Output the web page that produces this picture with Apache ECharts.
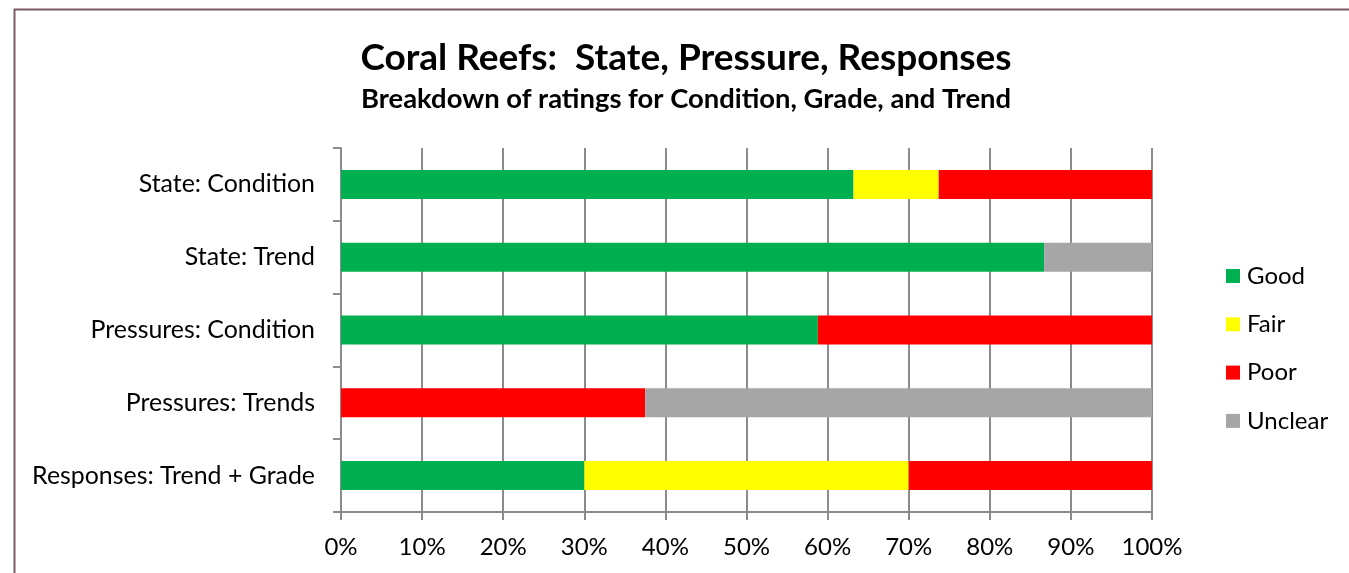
<!DOCTYPE html>
<html>
<head>
<meta charset="utf-8">
<script src="https://cdn.jsdelivr.net/npm/echarts@6/dist/echarts.min.js"></script>
<style>
html,body{margin:0;padding:0;background:#fff;}
#chart{width:1349px;height:573px;}
</style>
</head>
<body>
<div id="chart"></div>
<script>
const categories = ['State: Condition', 'State: Trend', 'Pressures: Condition', 'Pressures: Trends', 'Responses: Trend + Grade'];
const good    = [63.2, 86.7, 58.8, 0, 30];
const fair    = [10.5, 0, 0, 0, 40];
const poor    = [26.3, 0, 41.2, 37.5, 30];
const unclear = [0, 13.3, 0, 62.5, 0];
const titleText = 'Coral Reefs:  State, Pressure, Responses';
const subtitleText = 'Breakdown of ratings for Condition, Grade, and Trend';

const FONT = 'Lato, "Open Sans", sans-serif';
const gridColor = '#8c8c8c';

const chart = echarts.init(document.getElementById('chart'));
function mk(name, data, color) {
  return { name: name, type: 'bar', stack: 'total', data: data, barWidth: 29,
    itemStyle: { color: color }, emphasis: { disabled: true } };
}
chart.setOption({
  animation: false,
  backgroundColor: '#fff',
  graphic: [
    { type: 'rect', shape: { x: 14.5, y: 9.5, width: 1400, height: 600 }, style: { fill: 'none', stroke: '#7a5c68', lineWidth: 2 }, z: 0 },
    { type: 'text', x: 686, y: 58, style: { text: titleText, font: 'bold 37px ' + FONT, fill: '#000', align: 'center', verticalAlign: 'middle' } },
    { type: 'text', x: 686, y: 99, style: { text: subtitleText, font: 'bold 27.4px ' + FONT, fill: '#000', align: 'center', verticalAlign: 'middle' } }
  ],
  legend: {
    orient: 'vertical', left: 1226, top: 264, itemWidth: 14, itemHeight: 14, itemGap: 24.3,
    padding: 0, icon: 'rect',
    textStyle: { fontFamily: FONT, fontSize: 24, lineHeight: 24, color: '#000', padding: [0, 0, 0, 2] },
    data: ['Good', 'Fair', 'Poor', 'Unclear']
  },
  grid: { left: 341, right: 197, top: 148, bottom: 61, containLabel: false },
  xAxis: {
    type: 'value', min: 0, max: 100, interval: 10,
    axisLabel: { formatter: '{value}%', fontFamily: FONT, fontSize: 24, color: '#000', margin: 23 },
    axisLine: { show: true, lineStyle: { color: gridColor, width: 2 } },
    axisTick: { show: true, length: 8, lineStyle: { color: gridColor, width: 2 } },
    splitLine: { show: true, lineStyle: { color: gridColor, width: 2 } }
  },
  yAxis: {
    type: 'category', data: categories, inverse: true,
    axisLabel: { fontFamily: FONT, fontSize: 24.9, color: '#000', margin: 26 },
    axisLine: { show: true, lineStyle: { color: gridColor, width: 2 } },
    axisTick: { show: true, length: 8, lineStyle: { color: gridColor, width: 2 } }
  },
  series: [
    mk('Good', good, '#00b050'),
    mk('Fair', fair, '#ffff00'),
    mk('Poor', poor, '#ff0000'),
    mk('Unclear', unclear, '#a6a6a6')
  ]
});
</script>
</body>
</html>
